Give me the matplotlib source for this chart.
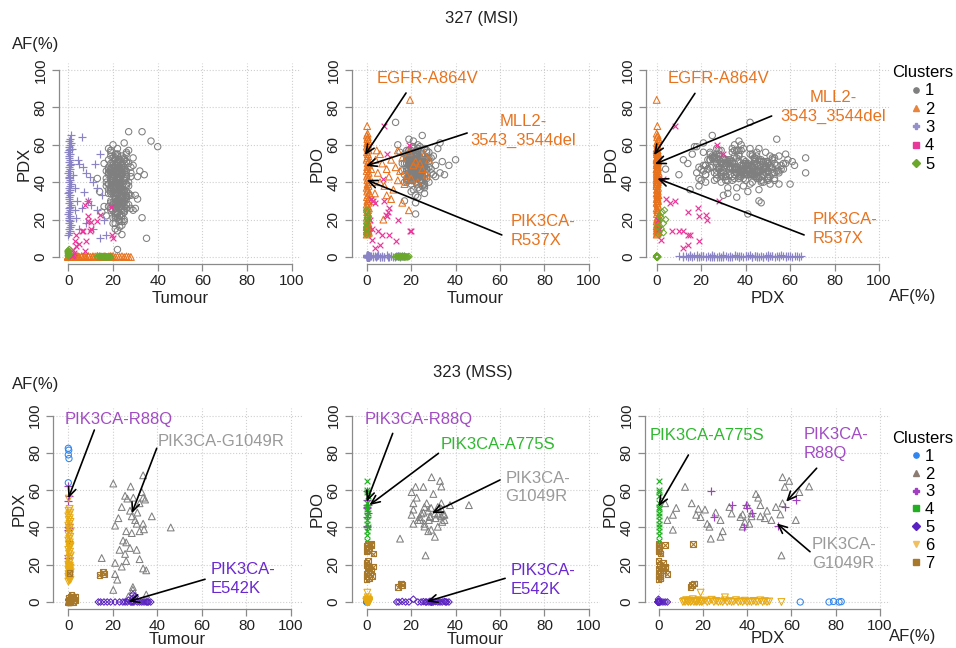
import numpy as np
import matplotlib.pyplot as plt
from matplotlib.lines import Line2D

plt.rcParams['font.family'] = ['Liberation Sans', 'DejaVu Sans']

# ================= 327 (MSI): AF(%) por cluster =================
# cluster 1 (cinza)
msi_c1_tumour = [21, 24, 18, 27, 22, 19, 25, 23, 16, 29, 20, 26, 22, 17, 24, 28, 21, 23, 19, 25,
                 22, 30, 18, 24, 21, 26, 20, 23, 15, 27, 22, 19, 25, 33, 21, 24, 18, 22, 26, 20,
                 23, 17, 25, 21, 28, 19, 24, 22, 20, 26, 31, 18, 23, 21, 25, 16, 22, 27, 20, 24,
                 19, 22, 26, 21, 24, 18, 23, 29, 20, 25, 22, 17, 27, 21, 23, 19, 26, 22, 24, 20,
                 35, 14, 21, 25, 23, 19, 22, 28, 20, 24, 18, 26, 21, 23, 32, 20, 25, 22, 19, 24,
                 22, 27, 20, 23, 18, 25, 21, 24, 30, 19, 22, 26, 23, 20, 17, 24, 21, 28, 22, 25,
                 20, 23, 19, 26, 22, 24, 21, 27, 18, 23, 25, 20, 22, 34, 21, 24, 19, 26, 23, 22,
                 24, 21, 18, 25, 22, 28, 20, 23, 26, 19, 21, 24, 22, 31, 20, 25, 23, 17, 22, 26,
                 37, 21, 24, 19, 23, 22, 26, 20, 25, 18, 22, 24, 29, 21, 23, 20, 27, 22, 19, 25,
                 23, 20, 26, 22, 24, 21, 19, 25, 22, 40, 18, 23, 27, 21, 24, 20, 22, 26, 13, 33,
                 22, 20, 24, 21, 23, 19, 25, 22, 21, 24, 20, 23, 22, 18, 26, 21, 23, 20, 24, 22,
                 23, 21, 19, 24, 22, 25, 20, 23, 21, 22, 24, 19, 26, 22, 20, 23, 21, 25, 22, 24,
                 21, 24, 22, 20, 23, 25, 19, 22, 24, 21, 20, 23, 22, 26, 21, 24, 23, 20, 22, 21,
                 24, 22, 20, 23, 21, 25, 22, 19, 24, 23, 21, 22, 26, 20, 23, 22, 24, 21, 25, 23]
msi_c1_pdx = [34, 12, 47, 28, 55, 41, 19, 38, 50, 25, 44, 31, 58, 22, 36, 48, 15, 42, 29, 53,
              39, 26, 45, 33, 18, 51, 37, 43, 24, 57, 30, 46, 35, 21, 49, 40, 27, 54, 32, 44,
              16, 38, 52, 29, 43, 35, 48, 23, 41, 56, 31, 45, 20, 37, 50, 27, 42, 34, 60, 25,
              47, 30, 39, 53, 22, 44, 36, 49, 28, 41, 14, 46, 33, 55, 38, 26, 43, 51, 31, 40,
              10, 35, 48, 24, 42, 57, 29, 45, 37, 19, 52, 32, 40, 27, 46, 34, 61, 23, 43, 38,
              30, 50, 25, 41, 36, 47, 21, 44, 33, 54, 28, 39, 48, 18, 42, 35, 53, 26, 45, 31,
              43, 27, 37, 51, 24, 46, 34, 40, 58, 22, 35, 48, 29, 44, 38, 17, 50, 32, 41, 36,
              26, 45, 39, 20, 49, 33, 42, 30, 55, 37, 23, 47, 34, 43, 28, 52, 36, 40, 4, 46,
              62, 31, 44, 37, 27, 50, 35, 41, 24, 48, 39, 29, 53, 33, 45, 21, 38, 47, 30, 42,
              36, 49, 28, 43, 32, 40, 56, 25, 46, 59, 39, 22, 67, 37, 44, 29, 41, 33, 42, 67,
              33, 45, 27, 52, 38, 41, 30, 48, 24, 36, 44, 19, 50, 34, 42, 28, 46, 39, 31, 55,
              40, 26, 47, 35, 51, 29, 43, 37, 22, 49, 32, 45, 38, 27, 53, 41, 34, 48, 30, 44,
              37, 50, 28, 43, 33, 46, 25, 39, 54, 31, 47, 36, 21, 44, 40, 29, 52, 35, 42, 38,
              45, 30, 41, 36, 49, 27, 43, 34, 48, 39, 32, 46, 26, 51, 37, 44, 29, 40, 35, 47]
msi_c1_pdo = [48, 52, 41, 57, 45, 50, 38, 60, 46, 53, 43, 49, 55, 40, 47, 51, 36, 58, 44, 50,
              46, 54, 42, 48, 59, 39, 51, 45, 56, 47, 33, 52, 44, 61, 49, 41, 53, 46, 37, 50,
              55, 44, 48, 51, 40, 57, 46, 52, 35, 49, 43, 54, 47, 62, 41, 50, 45, 56, 39, 48,
              51, 45, 58, 42, 49, 53, 37, 47, 55, 44, 50, 30, 52, 46, 57, 41, 48, 54, 43, 49,
              44, 60, 47, 52, 39, 50, 45, 56, 42, 48, 53, 34, 49, 46, 58, 41, 51, 47, 55, 43,
              50, 42, 54, 46, 57, 40, 49, 52, 44, 63, 47, 38, 51, 45, 55, 48, 41, 53, 46, 50,
              47, 55, 43, 49, 52, 36, 58, 45, 50, 44, 54, 48, 40, 51, 46, 59, 43, 52, 49, 45,
              53, 46, 50, 41, 56, 48, 44, 52, 39, 57, 47, 51, 43, 49, 54, 45, 32, 50, 47, 42,
              49, 44, 53, 47, 58, 42, 50, 46, 55, 40, 52, 48, 45, 51, 43, 56, 47, 29, 53, 46,
              45, 51, 48, 54, 41, 50, 47, 65, 43, 52, 46, 49, 53, 55, 44, 57, 23, 48, 72, 45,
              47, 50, 44, 52, 46, 49, 43, 51, 48, 45, 53, 42, 50, 47, 44, 52, 46, 49, 41, 54,
              49, 45, 52, 47, 43, 50, 46, 54, 44, 48, 51, 45, 49, 42, 53, 47, 50, 44, 48, 46,
              46, 51, 48, 44, 50, 47, 53, 45, 49, 52, 43, 48, 46, 51, 44, 50, 47, 42, 49, 45,
              50, 46, 49, 53, 45, 48, 44, 51, 47, 42, 50, 46, 52, 48, 45, 49, 43, 51, 47, 46]

# cluster 2 (laranja): coluna em Tumour=0 + pontos espalhados, PDX ~ 0
msi_c2_tumour = [0, 0.5, 1, 0.3, 0.8, 0.2, 0.6, 1.2, 0, 0.4, 0.9, 0.1, 0.7, 0.3, 1.1, 0, 0.5, 0.8, 0.2, 0.6,
                 1, 0.4, 0, 0.7, 0.3, 0.9, 0.1, 0.5, 1.2, 0.2, 0.6, 0, 0.8, 0.4, 1, 0.3, 0.7, 0.1, 0.5, 0.9,
                 0, 0.6, 0.2, 1.1, 0.4, 0.8, 0, 0.3, 0.7, 0.5, 0.1, 0.9, 0.4, 0, 0.6, 0.2, 0.8, 0.3, 0.5, 0.1,
                 0.4, 0.2,
                 3.7, 4.5, 5, 6, 7, 8, 9, 10, 11, 12, 13, 14, 15, 16, 17, 18, 19, 20, 21, 22,
                 24, 25, 26, 27, 28, 19, 7.5, 19.5, 3, 6, 9, 2, 2.5, 4, 14, 23, 11, 16]
msi_c2_pdx = [0, 0.4, 0.2, 0.6, 0, 0.3, 0.8, 0.1, 0.5, 0, 0.7, 0.2, 0.4, 0, 0.6, 0.3, 0.9, 0.1, 0.5, 0.2,
              0, 0.7, 0.4, 0.1, 0.6, 0, 0.3, 0.8, 0.2, 0.5, 0.1, 0.6, 0, 0.4, 0.2, 0.7, 0, 0.5, 0.3, 0.9,
              0.2, 0, 0.6, 0.4, 0.1, 0.7, 0.3, 0, 0.5, 0.8, 0.2, 0.4, 0, 0.6, 0.3, 0.1, 0.5, 0.9, 0.2, 0.4,
              0, 0.3,
              0, 0.3, 0, 0.5, 0.2, 0, 0.4, 0.1, 0, 0.3, 0.6, 0, 0.2, 0.4, 0, 0.3, 0.1, 0.5, 0, 0.2,
              0.4, 0, 0.3, 0.1, 0, 0.5, 0.2, 0, 0.4, 0.1, 0.3, 0, 0.2, 0.5, 0, 0.1, 0.4, 0]
msi_c2_pdo = [12, 12.5, 13, 13.5, 14, 14.5, 15, 15.5, 16, 16.5, 17, 17.5, 18, 19, 20, 21, 22, 23, 24, 25,
              26, 27, 28, 29, 30, 31, 32, 33, 34, 35, 36, 37, 38, 39, 40, 41, 42, 43, 44, 45,
              46, 47, 48, 49, 50, 51, 52, 53, 54, 55, 56, 57, 58, 59, 60, 61, 62, 63, 64, 65,
              66, 70,
              34, 57, 45, 40, 50, 38, 47, 43, 52, 36, 48, 41, 46, 53, 39, 44, 56, 42, 49, 51,
              50, 47, 55, 44, 52, 25, 20, 84, 30, 55, 33, 47, 40, 52, 57, 40, 31, 29]

# cluster 3 (lilas): PDO ~ 0
msi_c3_tumour = [0, 0.4, 0.8, 0.2, 0.6, 1, 0.3, 0.7, 0.1, 0.5, 0.9, 0, 0.4, 0.8, 0.2, 0.6, 1, 0.3, 0.7, 0.1,
                 0.5, 0.9, 0, 0.4, 0.8, 0.2, 0.6, 1, 0.3, 0.7, 0.1, 0.5, 0.9, 0, 0.4, 0.8, 0.2, 0.6, 1, 0.3,
                 0.7, 0.1, 0.5, 0.9, 0, 0.4, 0.8, 0.2, 0.6, 1, 0.3, 0.7,
                 6, 4.5, 6.7, 3, 9.7, 14, 9, 6, 3.6, 14, 12.7, 11, 8, 5, 7, 10, 2, 4, 16, 13,
                 8, 11, 15, 5, 17, 12, 1.5, 3, 1]
msi_c3_pdx = [12, 13, 14, 15, 16, 17, 18, 19, 20, 21, 22, 23, 24, 25, 26, 27, 28, 29, 30, 31,
              32, 33, 34, 35, 36, 37, 38, 39, 40, 41, 42, 43, 44, 45, 46, 47, 48, 49, 50, 51,
              52, 53, 54, 55, 56, 57, 58, 59, 60, 61, 62, 63,
              64, 52, 48, 37, 43, 55, 30, 26, 21, 10, 37, 40, 45, 50, 35, 28, 44, 30, 20, 25,
              18, 15, 33, 15, 12, 50, 58, 25, 65]
msi_c3_pdo = [0, 0.5, 0.2, 0.8, 0, 0.4, 1, 0.1, 0.6, 0.3, 0, 0.7, 0.2, 0.9, 0.4, 0, 0.5, 0.1, 0.8, 0.3,
              0, 0.6, 0.2, 1, 0.4, 0, 0.7, 0.1, 0.5, 0.3, 0.9, 0, 0.4, 0.6, 0.2, 0.8, 0, 0.5, 0.1, 0.7,
              0.3, 0, 0.6, 0.2, 0.9, 0.4, 0, 0.5, 0.8, 0.1, 0.3, 0.6,
              0, 0.5, 0.2, 0.8, 0, 0.4, 1, 0.1, 0.6, 0.3, 0, 0.7, 0.2, 0.9, 0.4, 0, 0.5, 0.1, 0.8, 0.3,
              0, 0.6, 0.2, 1, 0.4, 0, 0.7, 0.1, 0.5]

# cluster 4 (rosa)
msi_c4_tumour = [9, 7.6, 9, 6.7, 9.7, 3.6, 2.9, 3.6, 2, 8, 7.5, 14, 20, 19, 10, 13, 6, 5, 10, 19.5,
                 2.3, 8.7, 1.5, 2.5]
msi_c4_pdx = [30, 28, 19, 14, 14, 12, 8.4, 6, 4, 8.4, 3, 22.7, 10, 27, 15, 19, 14, 7, 18.6, 12,
              1, 22, 0.5, 2]
msi_c4_pdo = [55, 30, 22, 12, 24, 4.6, 30, 29, 31, 70, 41.7, 19.6, 14, 60, 12, 8.8, 6.4, 14, 26, 13.7,
              15, 22.6, 20, 9]

# cluster 5 (verde)
msi_c5_tumour = [0, 0, 0, 0.5, 0, 0.5, 0, 0, 0.3, 0,
                 13, 14, 14.5, 15, 15.5, 16, 16.5, 17, 17.5, 18, 18.5, 19, 14, 15, 16, 17]
msi_c5_pdx = [1, 2, 3, 4, 2.5, 1.5, 3, 0.5, 2, 3.5,
              0, 0, 0.3, 0, 0.2, 0, 0.4, 0, 0.1, 0, 0.3, 0, 0.5, 0.2, 0, 0.1]
msi_c5_pdo = [12, 15, 18, 20, 24, 22, 13, 16, 21, 25,
              0, 0.3, 0, 0.5, 0, 0.2, 0, 0.4, 0, 0.1, 0, 0.3, 0.2, 0, 0.4, 0]

# ================= 323 (MSS): AF(%) por cluster =================
mss_c1_tumour = [0, 0.3, 0, 0.2, 0]
mss_c1_pdx = [64, 77, 79, 81.5, 82.5]
mss_c1_pdo = [0, 0, 0.3, 0, 0.2]

mss_c2_tumour = [20.2, 33.6, 25.5, 29.2, 33, 33.6, 32, 22.5, 27.7, 28.5, 30.7, 33.6, 32, 34, 37.5,
                 46, 21, 26, 28.5, 24.6, 26, 23, 27.7, 30.7, 15, 21, 24, 26, 32, 25.5,
                 33.6, 35, 21, 20.2, 29, 29, 35, 26.5, 30, 31, 24, 34.5, 28, 22, 27]
mss_c2_pdx = [63.6, 68, 57, 56, 59, 56, 53, 45, 49, 46, 42, 42, 38, 39, 46,
              40, 41, 38, 37, 33, 32, 28, 29, 28, 23.6, 21, 19, 22, 23, 25.8,
              18, 17, 15, 6.5, 8, 6.5, 4, 55.5, 44, 48, 51, 55, 62, 12, 3]
mss_c2_pdo = [59, 62, 61.8, 67, 65, 53, 51, 56, 49, 46, 47.6, 46, 47, 43, 52,
              52, 42, 40.5, 45.6, 47.5, 51, 44, 38, 35, 34, 49.6, 45.6, 42, 40.4, 48,
              50, 46.8, 53, 46.8, 50.5, 38.8, 44, 25, 58, 45, 44, 47, 44, 61.8, 53]

mss_c3_tumour = [0, 0, 0.5, 0, 0.3, 0, 0.5, 0, 0.3, 0]
mss_c3_pdx = [23.6, 25, 33, 38.5, 39.5, 40, 42, 54, 57, 62]
mss_c3_pdo = [59.5, 45.6, 52, 40, 52, 50.5, 48, 41, 51, 55]

mss_c4_tumour = [0, 0.3, 0, 0.5, 0, 0.2, 0, 0.4, 0, 0.3, 0, 0.5, 0, 0.2, 0]
mss_c4_pdx = [0, 0, 0.2, 0, 0.3, 0, 0.1, 0, 0.2, 0, 0.3, 0, 0.1, 0, 0.2]
mss_c4_pdo = [33, 36, 38, 40, 42, 44, 46, 48, 50, 51, 53, 57, 59, 60, 65]

mss_c5_tumour = [13.5, 14.5, 16, 17.5, 19, 21, 23, 24.5, 25.5, 26.5, 27, 28, 28.5, 29, 29.5,
                 30, 31, 32, 33, 34, 35, 35.5, 36, 37, 29, 29]
mss_c5_pdx = [0, 0, 0, 0, 0, 0, 0, 0, 0, 0, 1, 0, 0, 0, 0, 3, 0, 0, 0, 0, 0, 0, 0, 0, 4, 2]
mss_c5_pdo = [0, 0, 0.3, 0, 0, 1.5, 0, 0, 0.2, 0, 0, 0, 0.4, 0, 0, 0, 0.2, 0, 0, 0, 0.3, 0, 0, 0, 0, 0]

mss_c6_tumour = [0, 0.5, 1, 0.2, 0.7, 0, 0.4, 0.9, 0.1, 0.6, 1.1, 0.3, 0.8, 0, 0.5, 1, 0.2, 0.7, 0, 0.4,
                 0.9, 0.1, 0.6, 1.1, 0.3, 0.8, 0, 0.5, 1, 0.2, 0.7, 0, 0.4, 0.9, 0.1, 0.6, 1.1, 0.3, 0.8, 0,
                 0.5, 1, 0.2, 0.7, 0, 0.4, 0.9, 0.1, 0.6, 0.3, 0.2, 0.5]
mss_c6_pdx = [11, 11.5, 12, 12.5, 13, 13.5, 14, 14.5, 15, 15.5, 16, 16.5, 17, 17.5, 18, 18.5, 19, 19.5, 20, 21,
              22, 23, 24, 25, 26, 27, 28, 29, 30, 31, 32, 33, 34, 35, 36, 37, 38, 39, 40, 41,
              42, 43, 44, 45, 46, 47, 48, 49, 50, 19, 55.5, 30]
mss_c6_pdo = [0, 0.5, 0, 1, 0.3, 0, 0.8, 0, 0.4, 1.5, 0, 0.6, 0, 0.2, 1, 0, 0.5, 0, 0.3, 0.8,
              0, 0.4, 1.2, 0, 0.6, 0, 0.3, 0, 0.9, 0, 0.5, 0, 0.2, 1, 0, 0.4, 0, 0.7, 0, 0.3,
              0, 0.6, 0, 0.2, 0.9, 0, 0.5, 0, 0.3, 5, 0, 2.5]

mss_c7_tumour = [0, 0, 0.5, 1, 0, 0.5, 1, 0, 2, 3, 0, 0.5, 1, 0, 2, 3, 1.5, 1, 2.5, 0, 14, 15.5, 16, 0.5, 2]
mss_c7_pdx = [0, 0, 1, 0, 0.5, 0, 1, 0, 2, 3, 0, 0, 0.5, 0, 0, 1, 4, 3, 1, 2, 14.5, 16, 15, 15.7, 3]
mss_c7_pdo = [12, 14, 16, 18, 20, 22, 13, 15, 17, 19, 27, 28, 29, 30, 31, 26, 15, 18.5, 14, 21, 8, 10, 9, 31, 30.5]

# ================= estilos =================
# (marcador, cor, tamanho, aberto?)
msi_styles = [('o', '#7f7f7f', 21, True), ('^', '#e8721c', 24, True), ('+', '#8a84c6', 26, False),
              ('x', '#e8389a', 17, False), ('D', '#6aa82a', 11, True)]
msi_leg = [('o', '#7f7f7f'), ('^', '#e8843c'), ('P', '#9490cc'), ('s', '#e8389a'), ('D', '#6aa82a')]
mss_styles = [('o', '#2f86f0', 20, True), ('^', '#808080', 24, True), ('+', '#a040c0', 30, False),
              ('x', '#22b022', 17, False), ('D', '#5a22c0', 11, True), ('v', '#e8aa12', 24, True),
              ('sx', '#a8782a', 16, True)]
mss_leg = [('o', '#2f86f0'), ('^', '#8c7b70'), ('P', '#a040c0'), ('s', '#22b022'), ('D', '#5a22c0'),
           ('v', '#f0c060'), ('s', '#a8782a')]

msi = [(msi_c1_tumour, msi_c1_pdx, msi_c1_pdo), (msi_c2_tumour, msi_c2_pdx, msi_c2_pdo),
       (msi_c3_tumour, msi_c3_pdx, msi_c3_pdo), (msi_c4_tumour, msi_c4_pdx, msi_c4_pdo),
       (msi_c5_tumour, msi_c5_pdx, msi_c5_pdo)]
mss = [(mss_c1_tumour, mss_c1_pdx, mss_c1_pdo), (mss_c2_tumour, mss_c2_pdx, mss_c2_pdo),
       (mss_c3_tumour, mss_c3_pdx, mss_c3_pdo), (mss_c4_tumour, mss_c4_pdx, mss_c4_pdo),
       (mss_c5_tumour, mss_c5_pdx, mss_c5_pdo), (mss_c6_tumour, mss_c6_pdx, mss_c6_pdo),
       (mss_c7_tumour, mss_c7_pdx, mss_c7_pdo)]

ORANGE = '#e8731e'
PURPLE = '#a24cc4'
GREY = '#9a9a9a'
INDIGO = '#6a28d0'
GREEN = '#2eb82e'

W, H = 956, 648
fig = plt.figure(figsize=(W / 100, H / 100), dpi=100)
ticks = [0, 20, 40, 60, 80, 100]


def make_axes(x0, ppu, xmin, xmax, y0, ppuy):
    left, right = x0 + xmin * ppu, x0 + xmax * ppu
    bottom, top = y0 + 4 * ppuy, y0 - 104 * ppuy
    ax = fig.add_axes([left / W, 1 - bottom / H, (right - left) / W, (bottom - top) / H])
    ax.set_xlim(xmin, xmax)
    ax.set_ylim(-4, 104)
    return ax


def style(ax, xlabel, ylabel, xlab_gap=27):
    ax.set_xticks(ticks)
    ax.set_yticks(ticks)
    ax.grid(True, ls=':', color='#cfcfcf', lw=0.8)
    ax.set_axisbelow(True)
    ax.spines['top'].set_visible(False)
    ax.spines['right'].set_visible(False)
    for s in ['left', 'bottom']:
        ax.spines[s].set_bounds(0, 100)
        ax.spines[s].set_color('#8a8a8a')
        ax.spines[s].set_linewidth(0.9)
    ax.tick_params(colors='#8a8a8a', labelcolor='#222222', length=5, width=0.9, labelsize=11)
    ax.tick_params(axis='x', pad=2)
    ax.tick_params(axis='y', pad=3)
    for lab in ax.get_yticklabels():
        lab.set_rotation(90)
        lab.set_va('center')
    ax.set_xlabel(xlabel, fontsize=12, color='#222222')
    ax.set_ylabel(ylabel, fontsize=12, color='#222222')
    bb = ax.get_position()
    ax.xaxis.set_label_coords(0.5, -xlab_gap / (bb.height * H))
    ax.yaxis.set_label_coords(-27 / (bb.width * W), 0.5)


def draw(ax, data, styles, ix, iy):
    for vals, (mk, col, s, hollow) in zip(data, styles):
        x, y = np.array(vals[ix]), np.array(vals[iy])
        if mk == 'sx':
            ax.scatter(x, y, marker='s', s=s, facecolors='none', edgecolors=col, linewidths=0.8, clip_on=False)
            ax.scatter(x, y, marker='x', s=s * 0.8, c=col, linewidths=0.8, clip_on=False)
        elif hollow:
            ax.scatter(x, y, marker=mk, s=s, facecolors='none', edgecolors=col, linewidths=0.75, clip_on=False)
        else:
            ax.scatter(x, y, marker=mk, s=s, c=col, linewidths=0.85, clip_on=False)


def note(ax, text, color, xy, start, end, ha='left'):
    ax.text(xy[0], xy[1], text, color=color, fontsize=12, ha=ha, va='center',
            multialignment=ha, linespacing=1.3)
    ax.annotate('', xy=end, xytext=start, annotation_clip=False,
                arrowprops=dict(arrowstyle='->,head_length=0.45,head_width=0.2', color='black',
                                lw=1.2, shrinkA=0, shrinkB=0, mutation_scale=14))


# ---------- linha de cima: 327 (MSI) ----------
a1 = make_axes(68.3, 2.235, -4.3, 104.3, 257, 1.87)
a2 = make_axes(366.7, 2.222, -6.8, 104.8, 257, 1.87)
a3 = make_axes(656.7, 2.223, -4.8, 104.8, 257, 1.87)
style(a1, 'Tumour', 'PDX')
style(a2, 'Tumour', 'PDO')
style(a3, 'PDX', 'PDO')
draw(a1, msi, msi_styles, 0, 1)
draw(a2, msi, msi_styles, 0, 2)
draw(a3, msi, msi_styles, 1, 2)

note(a2, 'EGFR-A864V', ORANGE, (4.5, 95.7), (17.7, 87.7), (-0.8, 54.5))
note(a2, 'MLL2-\n3543_3544del', ORANGE, (70.5, 67.5), (45.2, 66.3), (-0.3, 48.7), ha='center')
note(a2, 'PIK3CA-\nR537X', ORANGE, (64.9, 14), (60.8, 11.8), (0, 41.2))
note(a3, 'EGFR-A864V', ORANGE, (5.1, 95.2), (17.2, 87.5), (-1.2, 54.5))
note(a3, 'MLL2-\n3543_3544del', ORANGE, (79.5, 80.3), (51.7, 75.4), (-0.8, 49.7), ha='center')
note(a3, 'PIK3CA-\nR537X', ORANGE, (70.2, 15.1), (66.3, 11.8), (0.3, 42))

# ---------- linha de baixo: 323 (MSS) ----------
b1 = make_axes(68.3, 2.227, -6.7, 104.8, 602, 1.863)
b2 = make_axes(366.7, 2.222, -6.8, 104.8, 602, 1.863)
b3 = make_axes(658.5, 2.215, -6.2, 104.5, 602, 1.863)
style(b1, 'Tumour', 'PDX', 23)
style(b2, 'Tumour', 'PDO', 23)
style(b3, 'PDX', 'PDO', 22)
draw(b1, mss, mss_styles, 0, 1)
draw(b2, mss, mss_styles, 0, 2)
draw(b3, mss, mss_styles, 1, 2)

note(b1, 'PIK3CA-R88Q', PURPLE, (-1.5, 97.7), (11.7, 92.3), (0, 55.7))
note(b1, 'PIK3CA-G1049R', GREY, (40.3, 86), (39.7, 82.5), (28.5, 47.6))
note(b1, 'PIK3CA-\nE542K', INDIGO, (63.9, 12.2), (61.4, 12.2), (27, 0.2))
note(b2, 'PIK3CA-R88Q', PURPLE, (-0.8, 97.7), (11.7, 90.5), (0, 53.8))
note(b2, 'PIK3CA-A775S', GREEN, (33.3, 84.3), (32.3, 79.8), (1.2, 52))
note(b2, 'PIK3CA-\nG1049R', GREY, (62.3, 61.5), (60, 65.5), (29.3, 47.6))
note(b2, 'PIK3CA-\nE542K', INDIGO, (64.6, 11.8), (62.3, 12.7), (27, 0.2))
note(b3, 'PIK3CA-A775S', GREEN, (-3.8, 89.6), (13.5, 78.9), (0, 51.2))
note(b3, 'PIK3CA-\nR88Q', PURPLE, (65.7, 84.7), (71.4, 71.8), (57.6, 53.8))
note(b3, 'PIK3CA-\nG1049R', GREY, (69.2, 25.7), (68.4, 27), (53.4, 42.2))

# ---------- textos gerais ----------
fig.text(481.7 / W, 1 - 19 / H, '327 (MSI)', ha='center', va='center', fontsize=12, color='#222222')
fig.text(473 / W, 1 - 372.5 / H, '323 (MSS)', ha='center', va='center', fontsize=12, color='#222222')
for (x, y) in [(35.7, 45), (35.7, 385), (913, 296), (913, 636)]:
    fig.text(x / W, 1 - y / H, 'AF(%)', ha='center', va='center', fontsize=12, color='#222222')


# ---------- legendas ----------
def legend(items, y_top, spacing):
    handles = [Line2D([], [], ls='', marker=m, color=c, markersize=4.5 if m == 'P' else 3.8) for m, c in items]
    labels = [str(i + 1) for i in range(len(items))]
    fig.legend(handles, labels, title='Clusters', loc='upper center',
               bbox_to_anchor=(922.5 / W, 1 - y_top / H), frameon=False, fontsize=12,
               title_fontsize=12, handlelength=0.6, handletextpad=0.25, labelspacing=spacing,
               borderpad=0, borderaxespad=0)


legend(msi_leg, 65, 0.2)
legend(mss_leg, 431, 0.17)

fig.savefig('out.png', dpi=100)
